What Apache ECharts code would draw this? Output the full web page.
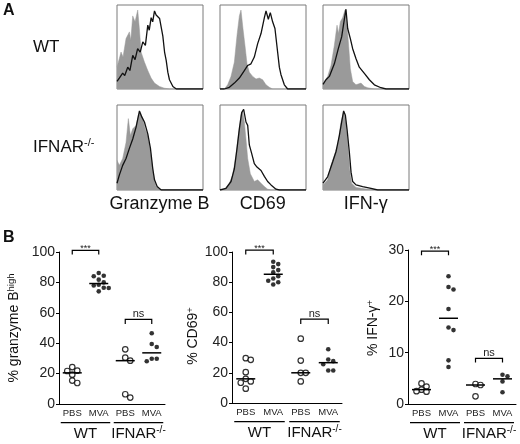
<!DOCTYPE html>
<html><head><meta charset="utf-8">
<script src="https://cdn.jsdelivr.net/npm/echarts@6/dist/echarts.min.js"></script>
<style>html,body{margin:0;padding:0;background:#fff}#c{width:520px;height:444px}</style>
</head><body><div id="c"></div>
<script>
// ---------- Panel A: flow histograms, [channel (% of axis), count (% of box height)] ----------
const gzbWtCtrl = [[0,26],[4.7,44],[7,38],[10.5,60],[14.4,68],[16,58],[18.3,87],[21,80],[24.1,94],[26,72],[28,44],[31.9,32],[35.8,22],[39.7,13],[43.6,7],[49.4,3],[55,1],[61,0],[100,0]];
const gzbWtStim = [[0,9],[2.7,13],[6.6,19],[9,16],[12.5,26],[15,22],[18.3,40],[21,35],[24,48],[27,44],[30,56],[33,52],[35.8,76],[37.5,70],[39.7,85],[41.5,80],[43.6,93],[45.5,88],[47.5,87],[49.5,84],[51.4,82],[53.3,63],[55.3,44],[57.2,34],[59.1,20],[61,11],[65,3],[69,0],[100,0]];
const cd69WtCtrl = [[0,0],[5,0],[8.9,5],[12.8,15],[16.7,32],[19.8,64],[22.5,87],[24.4,94],[26.7,72],[29,52],[31.4,30],[34.1,20],[38,15],[41.9,12],[45.7,13],[49.6,11],[53.5,5],[57.4,2],[61.2,0],[100,0]];
const cd69WtStim = [[0,0],[5,0],[10.9,2],[16.7,7],[22.5,13],[28.3,22],[32.2,28],[36,30],[39.9,38],[43.8,54],[47.7,66],[51.6,85],[53.5,93],[56.2,83],[58.5,91],[61.2,80],[63.9,72],[67,44],[69,26],[70.9,17],[74.8,5],[78.7,0],[100,0]];
const ifnWtCtrl = [[0,7],[5.4,15],[9.3,28],[13.2,52],[16.3,76],[18,66],[20.2,80],[22.9,85],[25.6,94],[27.5,80],[29.5,56],[31.8,24],[34.5,9],[38.4,5],[44.2,7],[48.1,3],[51.9,1.5],[59.7,0],[100,0]];
const ifnWtStim = [[0,5.5],[3.5,11],[7.4,15],[13.2,30],[17.8,48],[21.7,62],[24.8,83],[26.7,95],[28.7,72],[31.8,60],[34.5,48],[38.4,36],[42.2,26],[48.1,18.5],[53.9,11],[59.7,5],[67.4,1.5],[73.3,0],[100,0]];
const gzbKoCtrl = [[0,35],[2.7,29],[6.6,37],[10.5,56],[13.2,84],[15.6,64],[18.3,72],[22.2,76],[24.9,88],[27.2,91],[29.9,84],[32.7,72],[35.8,64],[38.9,45],[41.6,25],[43.6,10],[45.5,4],[49.4,1],[53.3,0],[100,0]];
const gzbKoStim = [[0,8],[2.7,17.5],[6.6,29],[10.5,37],[14.4,49],[18.3,60],[22.2,74],[26.1,93],[28.8,86],[31.9,80],[35.8,66],[38.9,49],[41.6,25],[43.6,12],[46.7,4],[51.4,0],[100,0]];
const cd69KoCtrl = [[0,0],[5,1],[10.9,8],[14.7,17.5],[18.6,41],[21.3,64],[24.4,88],[26.4,93],[28.3,80],[30.2,60],[32.2,37],[35.3,19],[39.9,10],[43.8,12],[47.7,8],[51.6,4],[55.4,1],[59.3,0],[100,0]];
const cd69KoStim = [[0,0],[7,2],[12.8,10],[16.7,25],[19.8,49],[22.5,72],[25.2,91],[27.5,95],[30.2,80],[32.2,76],[34.1,53],[36.8,43],[39.9,31],[43,27],[44.6,29],[47.7,23],[51.6,16],[55.4,10],[59.3,6],[65.1,1],[69,0],[100,0]];
const ifnKoCtrl = [[0,6],[5.4,12],[9.3,29],[13.2,41],[17.1,53],[20.9,80],[24,92],[26.7,80],[28.7,56],[31,25],[33.3,8],[38.4,3],[48.1,1.5],[59.7,0],[100,0]];
const ifnKoStim = [[0,8],[5.4,15.5],[11.2,33],[15.1,45],[19,64],[21.7,80],[24,93],[26,88],[27.9,72],[30.6,45],[32.6,21],[34.5,10],[38.4,6],[46.1,4],[55.8,2],[63.6,0],[100,0]];

// ---------- Panel B: per-mouse percentages ----------
const cats = ['PBS','MVA','PBS','MVA'];
const gzbWtPbs = [24.3,21.9,21.7,19.3,15.4,13.8];
const gzbWtMva = [86.2,84.4,84.0,81.8,80.0,78.5,78.0,76.5,76.3,74.1];
const gzbKoPbs = [36,30.5,28.5,6.4,4.2];
const gzbKoMva = [46.5,39.5,37.5,29.8,29.8,28.1];
const cd69WtPbs = [29.7,28.6,20.4,16,14.3,13.4,9.5];
const cd69WtMva = [93.5,92,90,88,86.5,84,82.5,81,80,78.5];
const cd69KoPbs = [42.6,28.1,20,20,14.3];
const cd69KoMva = [35.6,28.8,27.7,25.7,21.5,21.5];
const ifnWtPbs = [4.0,3.4,2.8,2.5,2.4];
const ifnWtMva = [24.9,22.8,22.3,18.5,14.9,14.4,8.5,7.2];
const ifnKoPbs = [3.9,3.7,1.5];
const ifnKoMva = [5.7,5.4,4.4,2.3];
// significance brackets: [fromCat, toCat, top, legEnd]
const sigGzb = [[0,1,101.1,98.3],[2,3,55.7,52.6]];
const sigCd69 = [[0,1,101.3,98.3],[2,3,55.5,52.4]];
const sigIfn = [[0,1,29.8,29.0],[2,3,8.9,8.1]];
const sigLabels = ['***','ns'];
const genotypes = [[0,1],[2,3]];
const genotypeLabels = ['{m|WT}','{m|IFNAR}{s|-/-}'];

const FONT = "'Liberation Sans', Arial, Helvetica, sans-serif";
const chart = echarts.init(document.getElementById('c'), null, {renderer:'canvas'});

const grid = [], xAxis = [], yAxis = [], series = [];

// histogram boxes
const histBoxes = [
  {left:117, top:5, h:84, ctrl:gzbWtCtrl, stim:gzbWtStim},
  {left:220, top:5, h:84, ctrl:cd69WtCtrl, stim:cd69WtStim},
  {left:323, top:5, h:84, ctrl:ifnWtCtrl, stim:ifnWtStim},
  {left:117, top:105, h:85, ctrl:gzbKoCtrl, stim:gzbKoStim},
  {left:220, top:105, h:85, ctrl:cd69KoCtrl, stim:cd69KoStim},
  {left:323, top:105, h:85, ctrl:ifnKoCtrl, stim:ifnKoStim}
];
histBoxes.forEach((b, i) => {
  grid.push({left:b.left, top:b.top, width:86, height:b.h, show:true, borderColor:'#7a7a7a', borderWidth:1, backgroundColor:'#fff'});
  xAxis.push({type:'value', gridIndex:i, min:0, max:100, show:false});
  yAxis.push({type:'value', gridIndex:i, min:0, max:100, show:false});
  series.push({type:'line', xAxisIndex:i, yAxisIndex:i, data:b.ctrl, symbol:'none', silent:true,
    lineStyle:{width:0.5, color:'#9a9a9a'}, areaStyle:{color:'#9a9a9a', opacity:1}, z:2});
  series.push({type:'line', xAxisIndex:i, yAxisIndex:i, data:b.stim, symbol:'none', silent:true,
    lineStyle:{width:1.3, color:'#111'}, z:3});
});

function swarm(vals, pxu){
  const order = vals.map((v,i)=>i).sort((a,b)=>vals[b]-vals[a]);
  const placed = []; const off = new Array(vals.length).fill(0);
  const step = 5, D = 5;
  const cand = [0,step,-step,2*step,-2*step,3*step,-3*step];
  order.forEach(i => {
    const y = vals[i]*pxu; let best = 0, bestD = -1;
    for (const c of cand){
      let md = Infinity;
      placed.forEach(p => { const d = Math.hypot(p[0]-c, p[1]-y); if (d < md) md = d; });
      if (md >= D){ best = c; break; }
      if (md > bestD){ bestD = md; best = c; }
    }
    off[i] = best; placed.push([best, y]);
  });
  return off;
}
function median(a){
  const s = a.slice().sort((x,y)=>x-y); const n = s.length;
  return n % 2 ? s[(n-1)/2] : (s[n/2-1]+s[n/2])/2;
}

const scatterPlots = [
  {left:59, top:252, width:106, height:152, max:100, interval:20, groups:[gzbWtPbs,gzbWtMva,gzbKoPbs,gzbKoMva], sig:sigGzb},
  {left:232, top:252, width:110, height:151, max:100, interval:20, groups:[cd69WtPbs,cd69WtMva,cd69KoPbs,cd69KoMva], sig:sigCd69},
  {left:408, top:250, width:108, height:154, max:30, interval:10, groups:[ifnWtPbs,ifnWtMva,ifnKoPbs,ifnKoMva], sig:sigIfn}
];
scatterPlots.forEach((p, k) => {
  const gi = 6 + k;
  grid.push({left:p.left, top:p.top, width:p.width, height:p.height});
  xAxis.push({type:'category', gridIndex:gi, data:cats, boundaryGap:true,
    axisLine:{lineStyle:{color:'#000', width:1}},
    axisTick:{alignWithLabel:true, length:3, lineStyle:{color:'#000'}},
    axisLabel:{interval:0, hideOverlap:false, fontSize:9.5, fontFamily:FONT, color:'#222', margin:4}});
  yAxis.push({type:'value', gridIndex:gi, min:0, max:p.max, interval:p.interval,
    axisLine:{show:true, lineStyle:{color:'#000', width:1}},
    axisTick:{show:true, length:3, lineStyle:{color:'#000'}},
    splitLine:{show:false},
    axisLabel:{fontSize:14, fontFamily:FONT, color:'#222', margin:4}});
  const pxu = p.height / p.max;
  p.groups.forEach((vals, c) => {
    const off = swarm(vals, pxu);
    const open = c % 2 === 0;
    series.push({type:'scatter', xAxisIndex:gi, yAxisIndex:gi, silent:true, z:4,
      symbol:'circle', symbolSize: open ? 5.5 : 4.6,
      itemStyle: open ? {color:'#fff', borderColor:'#000', borderWidth:1.2} : {color:'#000'},
      data: vals.map((v,i)=>({value:[c, v], symbolOffset:[off[i], 0]}))});
  });
  // medians
  series.push({type:'custom', xAxisIndex:gi, yAxisIndex:gi, silent:true, z:5, clip:false,
    data: p.groups.map((vals,c)=>[c, median(vals)]),
    renderItem:(params, api)=>{
      const pt = api.coord([api.value(0), api.value(1)]);
      return {type:'line', shape:{x1:pt[0]-9.5, y1:pt[1], x2:pt[0]+9.5, y2:pt[1]}, style:{stroke:'#000', lineWidth:1.5}};
    }});
  // significance brackets
  series.push({type:'custom', xAxisIndex:gi, yAxisIndex:gi, silent:true, z:5, clip:false,
    data: p.sig,
    renderItem:(params, api)=>{
      const a = api.coord([api.value(0), api.value(2)]);
      const b = api.coord([api.value(1), api.value(2)]);
      const e = api.coord([api.value(0), api.value(3)]);
      const lab = sigLabels[params.dataIndex];
      const star = lab === '***';
      return {type:'group', children:[
        {type:'polyline', shape:{points:[[a[0], e[1]],[a[0], a[1]],[b[0], b[1]],[b[0], e[1]]]}, style:{stroke:'#000', lineWidth:1.2, fill:null}},
        {type:'text', x:(a[0]+b[0])/2, y: star ? a[1]-1.5 : a[1]-5.5,
          style:{text:lab, fontSize: star ? 9 : 11, fontFamily:FONT, fill:'#222', align:'center', verticalAlign:'middle'}}
      ]};
    }});
  // genotype underlines and labels
  series.push({type:'custom', xAxisIndex:gi, yAxisIndex:gi, silent:true, z:5, clip:false,
    data: genotypes,
    renderItem:(params, api)=>{
      const a = api.coord([api.value(0), 0]);
      const b = api.coord([api.value(1), 0]);
      return {type:'group', children:[
        {type:'line', shape:{x1:a[0]-11.5, y1:a[1]+18.6, x2:b[0]+11.5, y2:a[1]+18.6}, style:{stroke:'#000', lineWidth:1.1}},
        {type:'text', x:(a[0]+b[0])/2, y:a[1]+29.5,
          style:{text:genotypeLabels[params.dataIndex], align:'center', verticalAlign:'middle',
            rich:{m:{fontSize:15, fontFamily:FONT, fill:'#111', lineHeight:17},
                  s:{fontSize:10, fontFamily:FONT, fill:'#111', lineHeight:10, verticalAlign:'top'}}}}
      ]};
    }});
});

const richYT = {m:{fontSize:14, fontFamily:FONT, fill:'#111', lineHeight:16}, s:{fontSize:9.5, fontFamily:FONT, fill:'#111', lineHeight:9, verticalAlign:'top'}};
const richBig = {m:{fontSize:17, fontFamily:FONT, fill:'#111', lineHeight:19}, s:{fontSize:11, fontFamily:FONT, fill:'#111', lineHeight:11, verticalAlign:'top'}};
const graphic = [
  {type:'text', x:3, y:11, style:{text:'A', font:'bold 16px '+FONT, fill:'#111', align:'left', verticalAlign:'middle'}},
  {type:'text', x:3, y:237.5, style:{text:'B', font:'bold 16px '+FONT, fill:'#111', align:'left', verticalAlign:'middle'}},
  {type:'text', x:33, y:47, style:{text:'{m|WT}', rich:richBig, align:'left', verticalAlign:'middle'}},
  {type:'text', x:33, y:147, style:{text:'{m|IFNAR}{s|-/-}', rich:richBig, align:'left', verticalAlign:'middle'}},
  {type:'text', x:159.5, y:204, style:{text:'Granzyme B', fontSize:18, fontFamily:FONT, fill:'#111', align:'center', verticalAlign:'middle'}},
  {type:'text', x:262.7, y:204, style:{text:'CD69', fontSize:18, fontFamily:FONT, fill:'#111', align:'center', verticalAlign:'middle'}},
  {type:'text', x:365.7, y:204, style:{text:'IFN-γ', fontSize:18, fontFamily:FONT, fill:'#111', align:'center', verticalAlign:'middle'}},
  {type:'text', x:14, y:328, rotation:Math.PI/2, style:{text:'{m|% granzyme B}{s|high}', rich:richYT, align:'center', verticalAlign:'middle'}},
  {type:'text', x:193, y:336, rotation:Math.PI/2, style:{text:'{m|% CD69}{s|+}', rich:richYT, align:'center', verticalAlign:'middle'}},
  {type:'text', x:373, y:328, rotation:Math.PI/2, style:{text:'{m|% IFN-γ}{s|+}', rich:richYT, align:'center', verticalAlign:'middle'}}
];

chart.setOption({animation:false, backgroundColor:'#fff', grid, xAxis, yAxis, series, graphic});
</script></body></html>
